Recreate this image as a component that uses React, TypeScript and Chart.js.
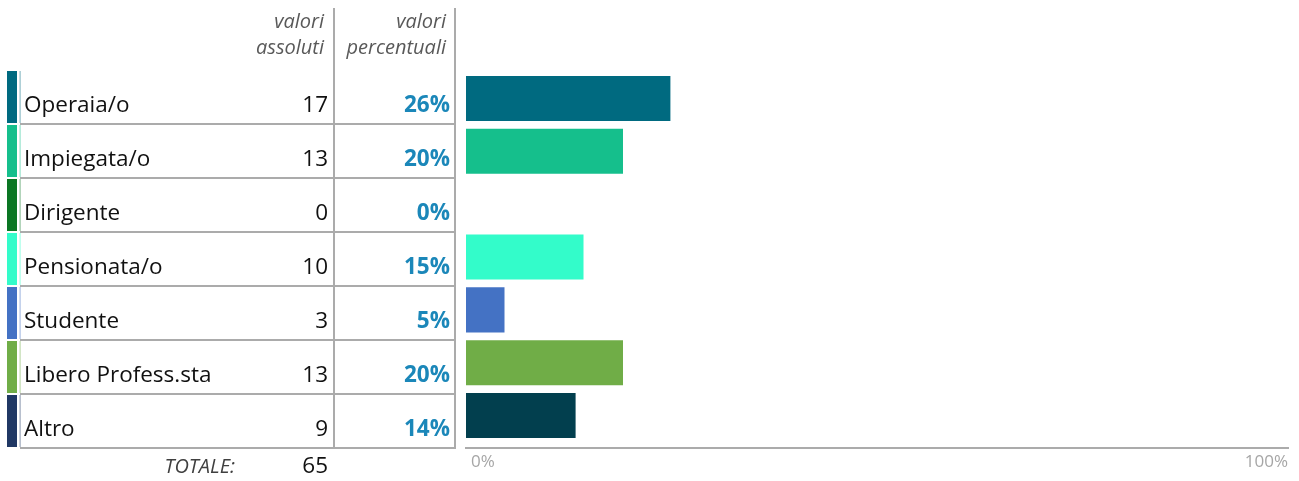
import React, { useEffect, useRef } from "react";
import { Chart, registerables } from "chart.js";

Chart.register(...registerables);

const categories = [
  "Operaia/o",
  "Impiegata/o",
  "Dirigente",
  "Pensionata/o",
  "Studente",
  "Libero Profess.sta",
  "Altro",
];
const absoluteValues = [17, 13, 0, 10, 3, 13, 9];
const percentValues = [26, 20, 0, 15, 5, 20, 14];
const totalValue = 65;
const totalLabel = "TOTALE:";
const headerAbsolute = ["valori", "assoluti"];
const headerPercent = ["valori", "percentuali"];
const axisTickLabels = ["0%", "100%"];
const barColors = ["#006A80", "#15BF8C", "#0B7623", "#33FCCA", "#4472C4", "#70AD47", "#023F4E"];
const markerColors = ["#006A80", "#15BF8C", "#0B7623", "#33FCCA", "#4472C4", "#70AD47", "#203864"];

const FONT = "'Open Sans', 'Noto Sans', sans-serif";
const GRID = "#ababab";

const tablePlugin = {
  id: "tablePlugin",
  afterDraw(chart: any) {
    const ctx = chart.ctx as CanvasRenderingContext2D;
    const area = chart.chartArea;
    const n = categories.length;
    const tableTop = area.top - 2;
    const tableBottom = area.bottom + 6;
    const rowH = (tableBottom - tableTop) / n;
    const colLabelX = 24;
    const colAbsRight = 328;
    const colDiv1 = 334;
    const colPctRight = 450;
    const colDiv2 = 455;
    ctx.save();

    // markers and thin edge lines
    for (let i = 0; i < n; i++) {
      const top = tableTop + i * rowH;
      ctx.fillStyle = markerColors[i];
      ctx.fillRect(7, top + 1, 10, rowH - 2);
      ctx.globalAlpha = 0.45;
      ctx.fillRect(19.5, top + 1, 1.2, rowH - 2);
      ctx.globalAlpha = 1;
    }

    // horizontal row lines
    ctx.strokeStyle = GRID;
    ctx.lineWidth = 2;
    for (let i = 1; i <= n; i++) {
      const y = Math.round(tableTop + i * rowH);
      ctx.beginPath();
      ctx.moveTo(20, y);
      ctx.lineTo(colDiv2 + 1, y);
      ctx.stroke();
    }
    // vertical dividers
    [colDiv1, colDiv2].forEach((x) => {
      ctx.beginPath();
      ctx.moveTo(x, 8);
      ctx.lineTo(x, tableBottom + 1);
      ctx.stroke();
    });

    // headers
    ctx.fillStyle = "#595959";
    ctx.font = `italic 20px ${FONT}`;
    ctx.textAlign = "right";
    ctx.textBaseline = "alphabetic";
    ctx.fillText(headerAbsolute[0], 324, 28);
    ctx.fillText(headerAbsolute[1], 324, 54);
    ctx.fillText(headerPercent[0], 446, 28);
    ctx.fillText(headerPercent[1], 446, 54);

    // rows text
    for (let i = 0; i < n; i++) {
      const base = tableTop + i * rowH + 41.5;
      ctx.fillStyle = "#111111";
      ctx.font = `22.5px ${FONT}`;
      ctx.textAlign = "left";
      ctx.fillText(categories[i], colLabelX, base);
      ctx.textAlign = "right";
      ctx.fillText(String(absoluteValues[i]), colAbsRight, base);
      ctx.fillStyle = "#1B87B9";
      ctx.font = `bold 22.5px ${FONT}`;
      ctx.fillText(percentValues[i] + "%", colPctRight, base);
    }

    // total
    ctx.fillStyle = "#404040";
    ctx.font = `italic 20px ${FONT}`;
    ctx.textAlign = "right";
    ctx.fillText(totalLabel, 235, 473);
    ctx.fillStyle = "#111111";
    ctx.font = `22.5px ${FONT}`;
    ctx.fillText(String(totalValue), colAbsRight, 473);

    // x axis line and labels
    const axisRight = chart.width - 10;
    ctx.strokeStyle = GRID;
    ctx.lineWidth = 2;
    ctx.beginPath();
    ctx.moveTo(area.left - 1, tableBottom);
    ctx.lineTo(axisRight, tableBottom);
    ctx.stroke();
    ctx.fillStyle = "#a6a6a6";
    ctx.font = `17px ${FONT}`;
    ctx.textAlign = "left";
    ctx.fillText(axisTickLabels[0], area.left + 5, 467);
    ctx.textAlign = "right";
    ctx.fillText(axisTickLabels[1], axisRight - 1, 467);
    ctx.restore();
  },
};

export default function App() {
  const canvasRef = useRef<HTMLCanvasElement | null>(null);

  useEffect(() => {
    document.body.style.margin = "0";
    document.body.style.overflow = "hidden";
    const canvas = canvasRef.current;
    if (!canvas) return;
    const chart = new Chart(canvas, {
      type: "bar",
      data: {
        labels: categories,
        datasets: [
          {
            data: percentValues,
            backgroundColor: barColors,
            borderColor: "rgba(255,255,255,0.35)",
            borderWidth: 1,
            barPercentage: 0.89,
            categoryPercentage: 1,
          },
        ],
      },
      options: {
        indexAxis: "y",
        animation: false,
        responsive: false,
        maintainAspectRatio: false,
        devicePixelRatio: 1,
        layout: { padding: { left: 466, right: 43, top: 72, bottom: 39 } },
        plugins: { legend: { display: false }, tooltip: { enabled: false } },
        scales: {
          x: { type: "linear", min: 0, max: 100, display: false },
          y: { type: "category", display: false, offset: true },
        },
      },
      plugins: [tablePlugin],
    });
    return () => chart.destroy();
  }, []);

  return (
    <div style={{ width: 1299, height: 481, background: "#fff" }}>
      <canvas ref={canvasRef} width={1299} height={481} style={{ display: "block" }} />
    </div>
  );
}
